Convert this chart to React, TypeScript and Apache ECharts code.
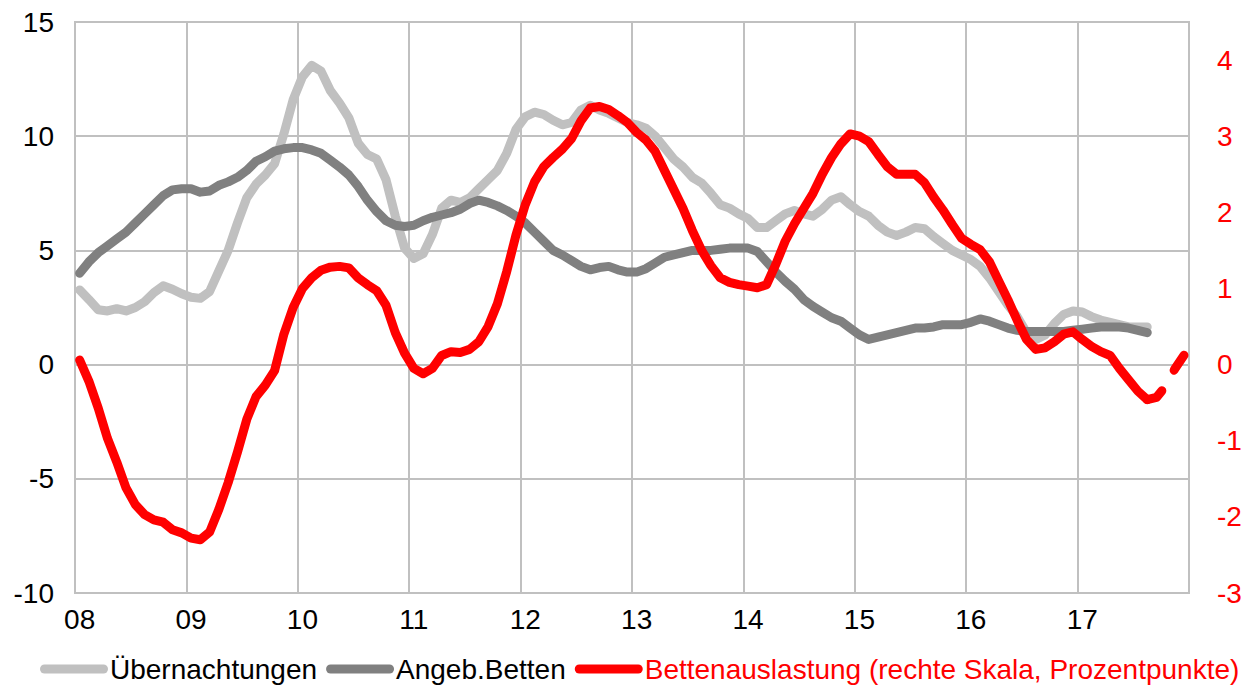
import React, { useEffect, useRef } from "react";
import * as echarts from "echarts";

const years = ["2008", "2009", "2010", "2011", "2012", "2013", "2014", "2015", "2016", "2017"];
const monthNames = ["01", "02", "03", "04", "05", "06", "07", "08", "09", "10", "11", "12"];
const categories: string[] = [];
years.forEach((y) => monthNames.forEach((m) => categories.push(`${y}-${m}`)));

// Übernachtungen (left scale, %)
const uebernachtungen = [
  3.27, 2.85, 2.4, 2.35, 2.45, 2.35, 2.5, 2.75, 3.15, 3.45, 3.3, 3.1,
  2.95, 2.9, 3.2, 4.1, 5.0, 6.2, 7.3, 7.9, 8.3, 8.8, 10.1, 11.6,
  12.6, 13.1, 12.85, 12.0, 11.45, 10.8, 9.7, 9.2, 9.0, 8.1, 6.5, 5.1,
  4.65, 4.85, 5.7, 6.85, 7.2, 7.1, 7.3, 7.7, 8.1, 8.5, 9.25, 10.3,
  10.85, 11.05, 10.95, 10.7, 10.5, 10.6, 11.15, 11.35, 11.15, 11.0, 10.8, 10.6,
  10.5, 10.35, 10.0, 9.5, 9.0, 8.65, 8.2, 7.95, 7.5, 7.0, 6.85, 6.6,
  6.4, 6.0, 6.0, 6.3, 6.6, 6.75, 6.6, 6.5, 6.8, 7.2, 7.35, 7.0,
  6.7, 6.5, 6.1, 5.8, 5.65, 5.8, 6.0, 5.95, 5.6, 5.3, 5.0, 4.8,
  4.6, 4.3, 3.8, 3.2, 2.6, 2.1, 1.4, 1.1, 1.3, 1.8, 2.2, 2.35,
  2.3, 2.1, 1.95, 1.85, 1.75, 1.65, 1.65, 1.65,
];

// Angebotene Betten (left scale, %)
const angebBetten = [
  4.0, 4.5, 4.9, 5.2, 5.5, 5.8, 6.2, 6.6, 7.0, 7.4, 7.65, 7.7,
  7.7, 7.55, 7.6, 7.85, 8.0, 8.2, 8.5, 8.9, 9.1, 9.35, 9.45, 9.5,
  9.5, 9.4, 9.25, 8.95, 8.65, 8.3, 7.8, 7.2, 6.7, 6.3, 6.1, 6.05,
  6.1, 6.3, 6.45, 6.55, 6.65, 6.8, 7.05, 7.2, 7.1, 6.95, 6.75, 6.5,
  6.2, 5.8, 5.4, 5.0, 4.8, 4.55, 4.3, 4.15, 4.25, 4.3, 4.15, 4.05,
  4.05, 4.2, 4.45, 4.7, 4.8, 4.9, 5.0, 5.0, 5.0, 5.05, 5.1, 5.1,
  5.1, 4.95, 4.5, 4.05, 3.65, 3.3, 2.85, 2.55, 2.3, 2.05, 1.9, 1.6,
  1.3, 1.1, 1.2, 1.3, 1.4, 1.5, 1.6, 1.6, 1.65, 1.75, 1.75, 1.75,
  1.85, 2.0, 1.9, 1.75, 1.6, 1.5, 1.45, 1.45, 1.45, 1.45, 1.45, 1.5,
  1.55, 1.6, 1.65, 1.65, 1.65, 1.6, 1.5, 1.4,
];

// Bettenauslastung (right scale, Prozentpunkte)
const bettenauslastung = [
  0.06, -0.22, -0.57, -0.97, -1.28, -1.62, -1.84, -1.97, -2.04, -2.07, -2.17, -2.21,
  -2.28, -2.3, -2.2, -1.9, -1.55, -1.15, -0.72, -0.42, -0.27, -0.08, 0.4, 0.75,
  1.0, 1.14, 1.24, 1.28, 1.29, 1.27, 1.14, 1.05, 0.97, 0.78, 0.42, 0.15,
  -0.05, -0.12, -0.05, 0.12, 0.17, 0.16, 0.2, 0.3, 0.5, 0.8, 1.22, 1.7,
  2.1, 2.4, 2.6, 2.72, 2.83, 2.97, 3.2, 3.37, 3.39, 3.35, 3.27, 3.18,
  3.05, 2.95, 2.8, 2.55, 2.3, 2.05, 1.76, 1.5, 1.3, 1.14, 1.08, 1.05,
  1.03, 1.01, 1.05, 1.32, 1.62, 1.85, 2.05, 2.25, 2.5, 2.72, 2.9, 3.03,
  3.0, 2.93, 2.76, 2.6, 2.5, 2.5, 2.5, 2.39, 2.2, 2.03, 1.84, 1.66,
  1.58, 1.51, 1.35, 1.1, 0.85, 0.58, 0.33, 0.2, 0.22, 0.3, 0.4, 0.43,
  0.33, 0.24, 0.17, 0.12, -0.05, -0.2, -0.35, -0.46, -0.43, -0.28, -0.05, 0.13,
];
const dashedFrom = 115;

const FONT = "'Liberation Sans', Arial, sans-serif";
const LIGHT = "#C0C0C0";
const DARK = "#808080";
const RED = "#FF0000";
const NAME_RED = "Bettenauslastung (rechte Skala, Prozentpunkte)";
const PILL = "path://M4.5,0 L63.5,0 A4.5,4.5 0 0 1 63.5,9 L4.5,9 A4.5,4.5 0 0 1 4.5,0 Z";

export default function App() {
  const ref = useRef<HTMLDivElement>(null);
  useEffect(() => {
    if (!ref.current) return;
    const chart = echarts.init(ref.current, undefined, { renderer: "svg" });
    const redSolid = bettenauslastung.map((v, i) => (i <= dashedFrom ? v : "-"));
    const redDashed = bettenauslastung.map((v, i) => (i >= dashedFrom ? v : "-"));
    const lineBase = (color: string, extra: any = {}) => ({
      width: 9,
      color,
      cap: "round",
      join: "round",
      ...extra,
    });
    chart.setOption({
      animation: false,
      backgroundColor: "#ffffff",
      textStyle: { fontFamily: FONT },
      grid: {
        left: 75,
        right: 65,
        top: 22,
        bottom: 96,
        show: true,
        borderColor: LIGHT,
        borderWidth: 2,
      },
      legend: {
        left: 40,
        top: 655,
        width: 1400,
        padding: 0,
        itemWidth: 68,
        itemHeight: 9,
        itemGap: 9,
        icon: PILL,
        data: [
          { name: "Übernachtungen", textStyle: { color: "#000" } },
          { name: "Angeb.Betten", textStyle: { color: "#000" } },
          { name: NAME_RED, textStyle: { color: RED } },
        ],
        textStyle: { fontFamily: FONT, fontSize: 28, padding: [0, 0, 0, -3] },
      },
      xAxis: {
        type: "category",
        data: categories,
        boundaryGap: true,
        axisLine: { show: false },
        axisTick: { show: false, interval: 11 },
        axisLabel: {
          interval: 11,
          formatter: (v: string) => v.slice(2, 4),
          color: "#000",
          fontSize: 28,
          fontFamily: FONT,
          margin: 12,
        },
        splitLine: { show: true, interval: 11, lineStyle: { color: LIGHT, width: 2 } },
      },
      yAxis: [
        {
          type: "value",
          min: -10,
          max: 15,
          interval: 5,
          axisLine: { show: false },
          axisTick: { show: false },
          axisLabel: { color: "#000", fontSize: 28, fontFamily: FONT, margin: 21 },
          splitLine: { show: true, lineStyle: { color: LIGHT, width: 2 } },
        },
        {
          type: "value",
          min: -3,
          max: 4.5,
          interval: 1,
          position: "right",
          axisLine: { show: false },
          axisTick: { show: false },
          axisLabel: {
            color: RED,
            fontSize: 28,
            fontFamily: FONT,
            margin: 28,
            showMaxLabel: false,
            formatter: (v: number) => (Number.isInteger(v) ? String(v) : ""),
          },
          splitLine: { show: false },
        },
      ],
      series: [
        {
          name: "Übernachtungen",
          type: "line",
          data: uebernachtungen,
          symbol: "none",
          lineStyle: lineBase(LIGHT),
          itemStyle: { color: LIGHT },
        },
        {
          name: "Angeb.Betten",
          type: "line",
          data: angebBetten,
          symbol: "none",
          lineStyle: lineBase(DARK),
          itemStyle: { color: DARK },
        },
        {
          name: NAME_RED,
          type: "line",
          yAxisIndex: 1,
          data: redSolid,
          symbol: "none",
          lineStyle: lineBase(RED),
          itemStyle: { color: RED },
        },
        {
          name: "Bettenauslastung (Prognose)",
          type: "line",
          yAxisIndex: 1,
          data: redDashed,
          symbol: "none",
          lineStyle: lineBase(RED, { type: [18, 24] }),
          itemStyle: { color: RED },
        },
      ],
    });
    return () => chart.dispose();
  }, []);
  return (
    <div
      ref={ref}
      style={{ position: "fixed", left: 0, top: 0, width: 1254, height: 689, background: "#fff" }}
    />
  );
}
